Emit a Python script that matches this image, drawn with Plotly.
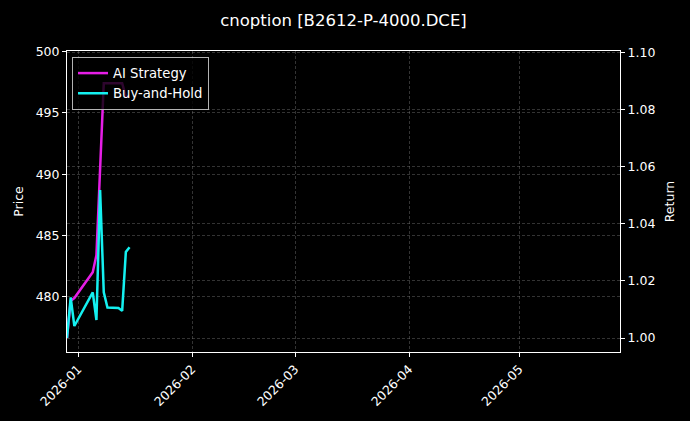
import plotly.graph_objects as go

# daily points
dates = ["2025-12-29", "2025-12-30", "2025-12-31", "2026-01-05", "2026-01-06",
         "2026-01-07", "2026-01-08", "2026-01-09", "2026-01-12", "2026-01-13",
         "2026-01-14", "2026-01-15"]
ai_strategy = [1.000, 1.013, 1.014, 1.023, 1.029, 1.0606, 1.0892, 1.0892,
               1.0892, 1.0892, 1.0845, 1.0845]
buy_and_hold = [1.000, 1.0142, 1.0042, 1.0160, 1.0063, 1.0518, 1.0160, 1.0107,
                1.0105, 1.0095, 1.0301, 1.0318]

month_ticks = ["2026-01-01", "2026-02-01", "2026-03-01", "2026-04-01", "2026-05-01"]
month_labels = ["2026-01", "2026-02", "2026-03", "2026-04", "2026-05"]
price_ticks = [480, 485, 490, 495, 500]
return_ticks = [1.00, 1.02, 1.04, 1.06, 1.08, 1.10]

fig = go.Figure()

# returns live on the primary y axis (drawn on the right side)
fig.add_trace(go.Scatter(x=dates, y=ai_strategy, name='AI Strategy', mode='lines',
                         line=dict(color='#e61ee6', width=2.5)))
fig.add_trace(go.Scatter(x=dates, y=buy_and_hold, name='Buy-and-Hold', mode='lines',
                         line=dict(color='#14f0f0', width=2.5)))
# empty trace so plotly keeps the left price axis
fig.add_trace(go.Scatter(x=[], y=[], yaxis='y2', showlegend=False, hoverinfo='skip'))

axis_style = dict(showline=True, linecolor='white', linewidth=1, ticks='outside',
                  ticklen=4, tickcolor='white', tickwidth=1, zeroline=False,
                  automargin=False, gridcolor='rgba(128,128,128,0.4)',
                  griddash='3px,2px', gridwidth=0.6)

fig.update_layout(
    width=690, height=421,
    margin=dict(l=67, r=70, t=51, b=69),
    paper_bgcolor='black', plot_bgcolor='black',
    font=dict(family='DejaVu Sans', size=12.5, color='white'),
    title=dict(text='cnoption [B2612-P-4000.DCE]', x=0.5, xref='paper',
               y=0.952, yref='container', yanchor='middle',
               font=dict(size=16.5, color='white')),
    xaxis=dict(type='date', range=["2025-12-29", "2026-05-28 09:00"],
               tickvals=month_ticks, ticktext=month_labels, tickangle=-45,
               mirror=True, **axis_style),
    yaxis=dict(range=[0.9951, 1.1005], tickvals=return_ticks, tickformat='.2f',
               side='right', title=dict(text='Return', standoff=10, font=dict(size=12.5)),
               **axis_style),
    yaxis2=dict(range=[475.5, 500.05], tickvals=price_ticks, side='left',
                overlaying='y', anchor='x',
                title=dict(text='Price', standoff=9, font=dict(size=12.5)), **axis_style),
    legend=dict(x=0.009, y=0.98, xanchor='left', yanchor='top',
                bgcolor='rgba(0,0,0,0.8)', bordercolor='rgba(210,210,210,0.85)',
                borderwidth=1, itemwidth=30, font=dict(size=13.2, color='white')),
)

fig.write_html("out.html", config={'displayModeBar': False},
               post_script="document.body.style.margin='0';"
                           "document.body.style.background='black';")
